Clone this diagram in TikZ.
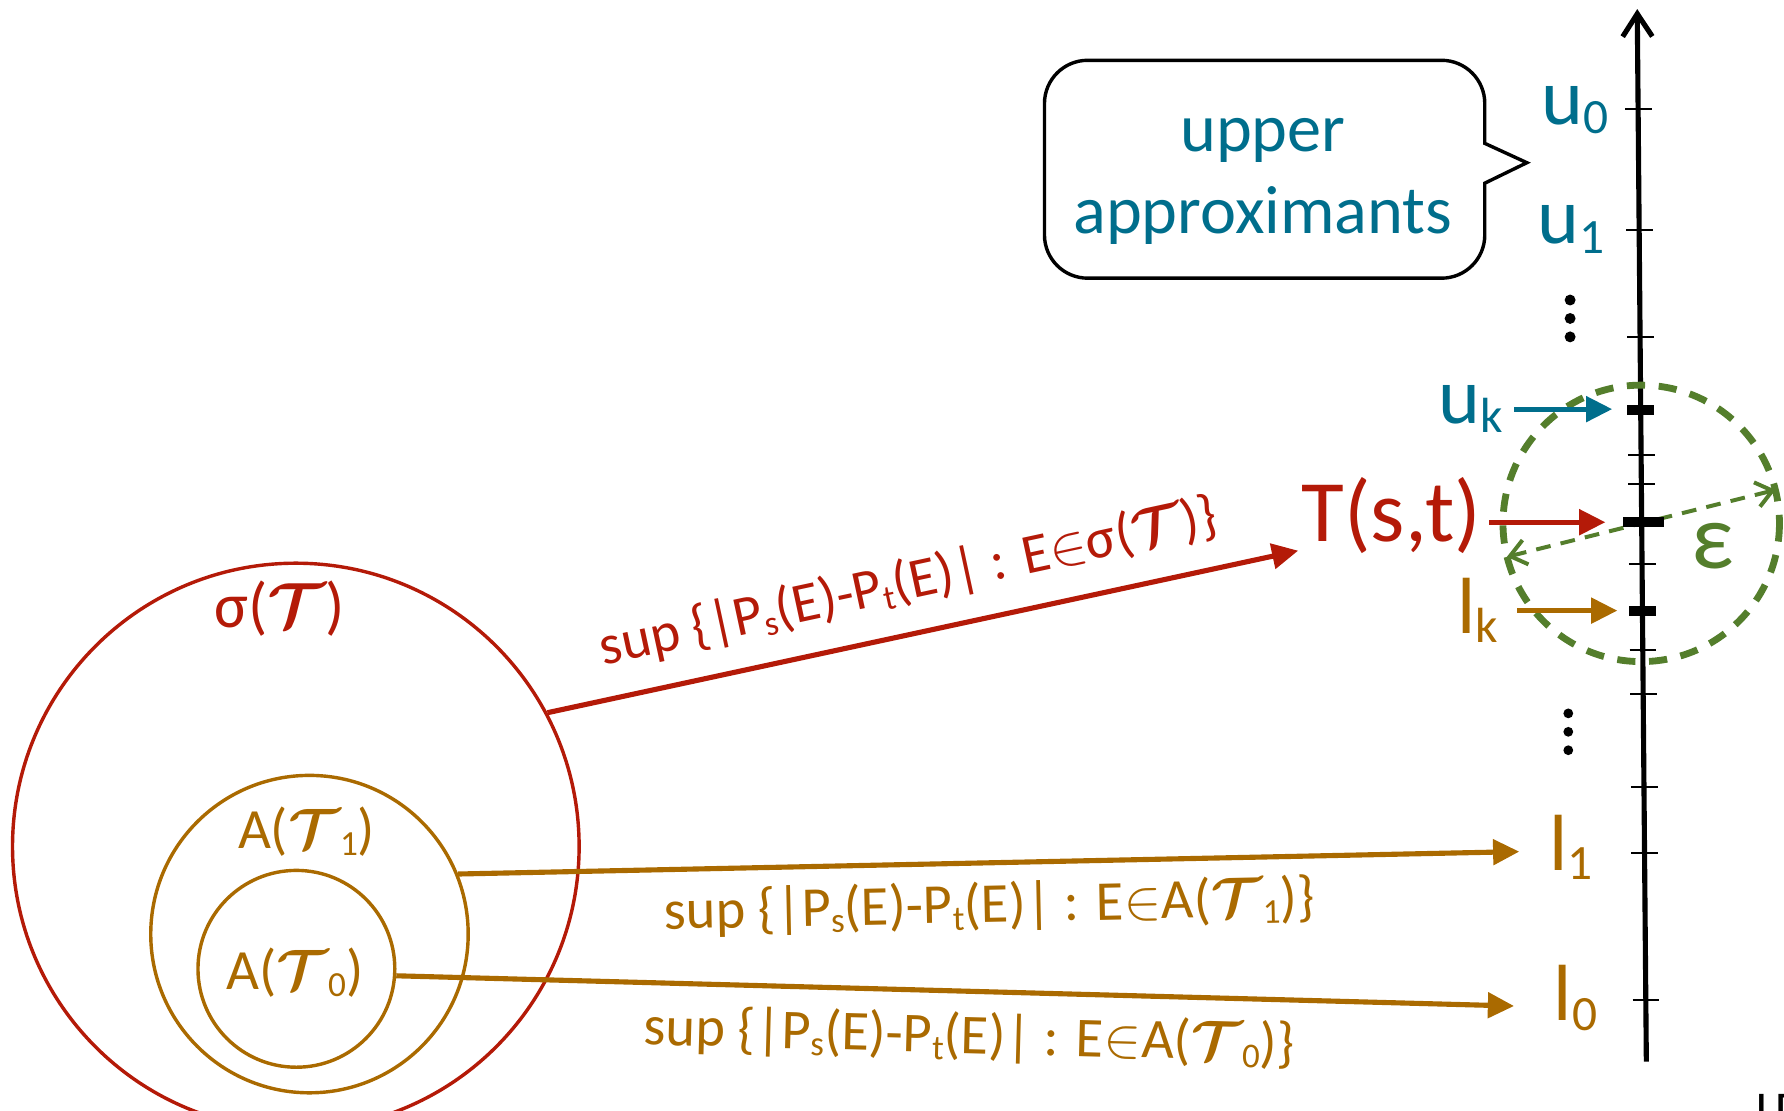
\RequirePackage{fix-cm}
\documentclass[tikz,border=0pt]{standalone}
\usepackage{amsmath}
\usepackage{graphicx}
\usepackage{fontspec}
\setmainfont{Carlito}
\usetikzlibrary{arrows.meta,calc}
\definecolor{cred}{RGB}{180,26,8}
\definecolor{cbrown}{RGB}{170,106,0}
\definecolor{cteal}{RGB}{0,110,140}
\definecolor{cgreen}{RGB}{84,126,44}
\newcommand\fsz[1]{\fontsize{#1}{#1}\selectfont}
\newcommand\scT{\boldsymbol{\mathcal{T}}}
\newcommand\sbs[1]{\raisebox{-0.12em}{\scalebox{0.62}{#1}}}
\begin{document}
\begin{tikzpicture}[x=1pt,y=-1pt,
  every node/.style={inner sep=0pt},
  axlab/.style={font=\fsz{70}},
  bigarrow/.style={-{Triangle[length=23pt,width=22pt]}, line width=4.5pt},
  thintick/.style={line width=1.8pt},
  thicktick/.style={line width=8.8pt},
  suplab/.style={font=\fsz{49.5}, sloped}]
\useasboundingbox (0,0) rectangle (1568,976);

% callout
\draw[line width=3pt, line join=miter]
  (1305,126) -- (1305,91) .. controls (1305,70) and (1288,53) .. (1267,53)
  -- (956,53) .. controls (935,53) and (918,70) .. (918,91)
  -- (918,206.5) .. controls (918,227.5) and (935,244.5) .. (956,244.5)
  -- (1267,244.5) .. controls (1288,244.5) and (1305,227.5) .. (1305,206.5)
  -- (1305,161) -- (1342,143) -- cycle;
\node[font=\fsz{60}, text=cteal, anchor=base] (up1) at (1110,133.5) {upper};
\node[font=\fsz{60}, text=cteal, anchor=base] (up2) at (1110,205) {approximants};

% green double arrow (under axis)
\node[circle, minimum size=243pt] (epsc) at (1442.5,460) {};
\draw[cgreen, line width=3.5pt, dash pattern=on 13pt off 9pt,
  {Straight Barb[length=14pt,width=22pt]}-{Straight Barb[length=14pt,width=22pt]}]
  (epsc.194.9) -- (epsc.14.9);

% axis
\coordinate (axb) at (1447,933);
\coordinate (axt) at (1439,8);
\draw[line width=4.5pt, -{Straight Barb[length=20pt,width=26pt]}] (axb) -- (axt);
\foreach \yy/\xx in {96/1439.8, 202/1440.7, 296/1441.5, 400/1442.4, 425/1442.6,
  496/1443.2, 571/1443.9, 610/1444.2, 692/1444.9, 750/1445.4, 879/1446.5}
  \draw[thintick] (\xx-11.5,\yy) -- (\xx+12,\yy);
\draw[thicktick] (1442-12,360) -- (1442+12,360);
\draw[thicktick] (1442.9-16,459) -- (1442.9+19.6,459);
\draw[thicktick] (1443.6-11.5,537) -- (1443.6+12,537);

% green dashed circle
\draw[cgreen, line width=6pt, dash pattern=on 16pt off 12pt] (epsc.center) circle (121.5);
\node[font=\fsz{82}, text=cgreen] (epsl) at (1505.6,479.7) {ε};

% axis labels
\node[axlab, text=cteal, anchor=base] (u0) at (1384.5,109) {u\sbs{0}};
\node[axlab, text=cteal, anchor=base] (u1) at (1380.5,214) {u\sbs{1}};
\node[axlab, text=cteal, anchor=base east] (uk) at (1321,372) {u\sbs{k}};
\node[font=\fsz{77}, text=cred, anchor=base east] (Tst) at (1302,476) {T(s,t)};
\node[axlab, text=cbrown, anchor=base east] (lk) at (1316.7,556.5) {l\sbs{k}};
\node[axlab, text=cbrown, anchor=base] (l1) at (1380.8,765) {l\sbs{1}};
\node[axlab, text=cbrown, anchor=base] (l0) at (1384.8,897) {l\sbs{0}};

% vertical dots
\fill (1380,263.7) circle (4.8);
\fill (1380,279.9) circle (4.8);
\fill (1380,296.1) circle (4.8);
\fill (1378.4,627) circle (4.3);
\fill (1378.4,643.2) circle (4.3);
\fill (1378.4,659.4) circle (4.3);

% short arrows
\coordinate (ukt) at (1417,359.6);
\draw[bigarrow, cteal] ($(uk.east |- ukt)+(10,0)$) -- (ukt);
\coordinate (Tt) at (1411,459);
\draw[bigarrow, cred] ($(Tst.east |- Tt)+(7,0)$) -- (Tt);
\coordinate (lkt) at (1421.5,536.7);
\draw[bigarrow, cbrown] ($(lk.east |- lkt)+(17,0)$) -- (lkt);

% sets
\node[circle, draw=cred, line width=3pt, minimum size=498pt] (sig) at (260,744) {};
\node[circle, draw=cbrown, line width=3pt, minimum size=279pt] (midc) at (272,821) {};
\node[circle, draw=cbrown, line width=3pt, minimum size=173pt] (innc) at (260.5,851.5) {};
\node[font=\fsz{56}, text=cred] (sigl) at (246,534.5) {σ($\scT$)};
\node[font=\fsz{50}, text=cbrown] (a1l) at (269.5,731) {A($\scT$\sbs{1})};
\node[font=\fsz{50}, text=cbrown] (a0l) at (259,855) {A($\scT$\sbs{0})};

% long connectors
\coordinate (redtip) at (1141,484);
\draw[bigarrow, cred] (sig.28.5) -- node[suplab, pos=0.495, above=20pt, text=cred] (redlab)
  {sup \{|P\sbs{s}(E)-P\sbs{t}(E)| : E$\in$σ($\scT$)\}} (redtip);
\coordinate (l1tip) at (1335.3,748.5);
\draw[bigarrow, cbrown] (midc.22.9) -- node[suplab, pos=0.5, below=14pt, text=cbrown] (lab1)
  {sup \{|P\sbs{s}(E)-P\sbs{t}(E)| : E$\in$A($\scT$\sbs{1})\}} (l1tip);
\coordinate (l0tip) at (1330.7,884.2);
\draw[bigarrow, cbrown] (innc.-4) -- node[suplab, pos=0.514, below=16pt, text=cbrown] (lab0)
  {sup \{|P\sbs{s}(E)-P\sbs{t}(E)| : E$\in$A($\scT$\sbs{0})\}} (l0tip);

% cut-off fragment at the corner
\node[font=\fsz{44}, anchor=north west] (frag) at (1543,962) {I\hspace{6pt}D};
\end{tikzpicture}
\end{document}
